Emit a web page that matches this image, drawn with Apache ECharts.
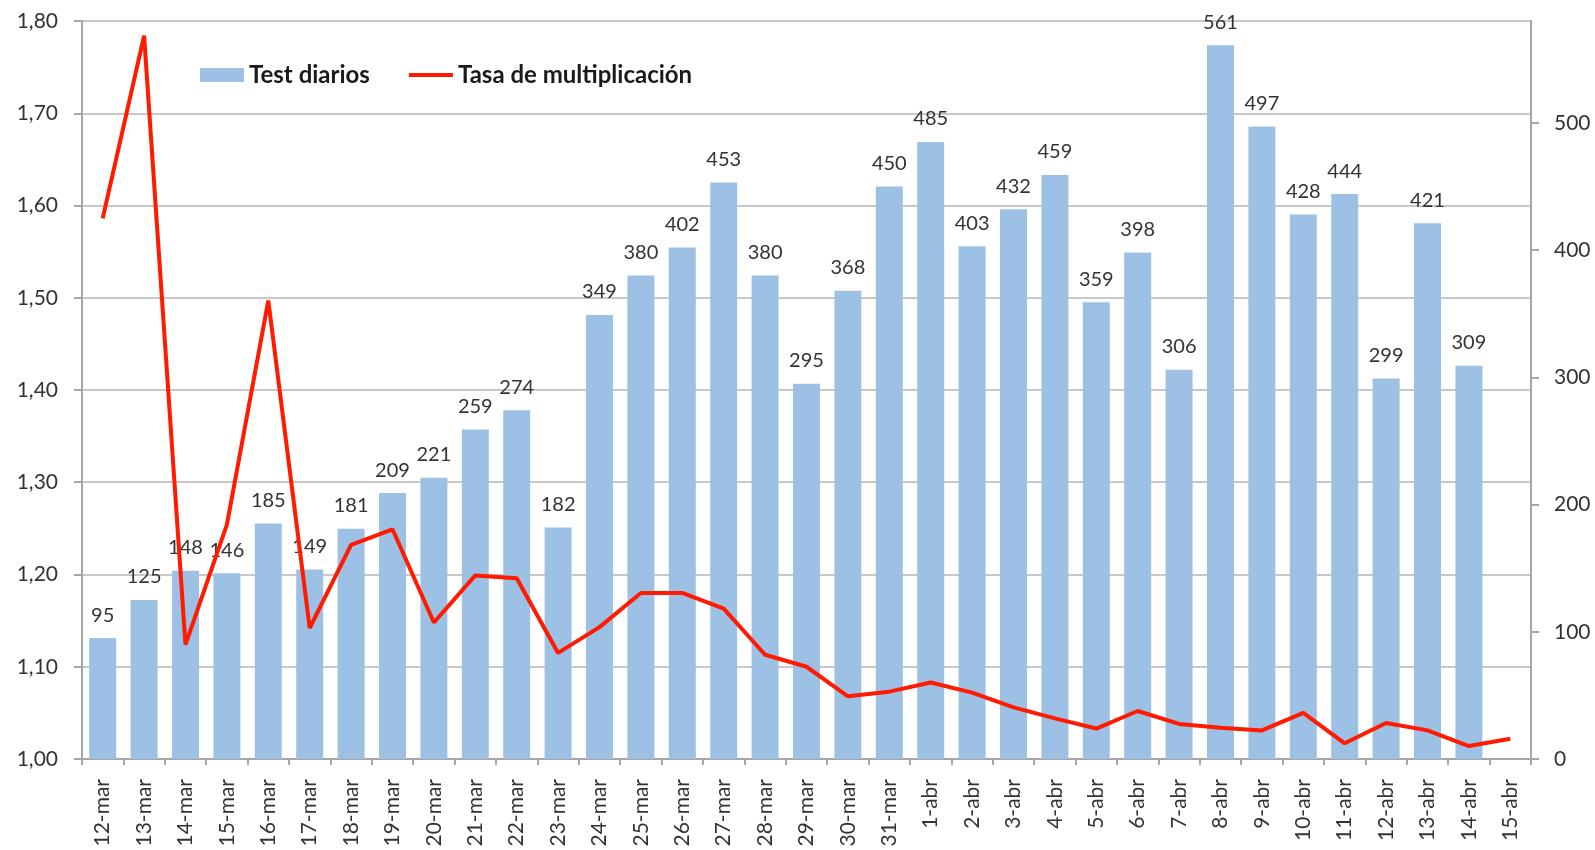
<!DOCTYPE html>
<html>
<head>
<meta charset="utf-8">
<script src="https://cdn.jsdelivr.net/npm/echarts@6/dist/echarts.min.js"></script>
<style>
  html, body { margin: 0; padding: 0; background: #ffffff; }
  #chart { width: 1595px; height: 850px; }
</style>
</head>
<body>
<div id="chart"></div>
<script>
const categories = ['12-mar','13-mar','14-mar','15-mar','16-mar','17-mar','18-mar','19-mar','20-mar','21-mar','22-mar','23-mar','24-mar','25-mar','26-mar','27-mar','28-mar','29-mar','30-mar','31-mar','1-abr','2-abr','3-abr','4-abr','5-abr','6-abr','7-abr','8-abr','9-abr','10-abr','11-abr','12-abr','13-abr','14-abr','15-abr'];
const testDiarios = [95,125,148,146,185,149,181,209,221,259,274,182,349,380,402,453,380,295,368,450,485,403,432,459,359,398,306,561,497,428,444,299,421,309,null];
const tasaMultiplicacion = [1.586,1.784,1.124,1.254,1.497,1.142,1.232,1.249,1.148,1.199,1.196,1.115,1.143,1.180,1.180,1.163,1.113,1.100,1.068,1.073,1.083,1.072,1.056,1.044,1.033,1.052,1.038,1.034,1.031,1.050,1.017,1.039,1.031,1.014,1.022];
const leftTicks = [1.0,1.1,1.2,1.3,1.4,1.5,1.6,1.7,1.8];
const rightTicks = [0,100,200,300,400,500];

const FONT = 'Lato, "Open Sans", sans-serif';
const chart = echarts.init(document.getElementById('chart'), null, {renderer: 'canvas'});
chart.setOption({
  animation: false,
  backgroundColor: '#ffffff',
  textStyle: { fontFamily: FONT },
  grid: { left: 82, right: 64, top: 21, bottom: 91, containLabel: false, outerBoundsMode: 'none' },
  legend: {
    left: 200, top: 63, padding: 0,
    itemWidth: 44, itemHeight: 14, itemGap: 37,
    textStyle: { fontFamily: FONT, fontSize: 24, fontWeight: 'bold', color: '#1a1a1a' },
    data: [
      { name: 'Test diarios', icon: 'rect' },
      { name: 'Tasa de multiplicación', itemStyle: { opacity: 0 }, lineStyle: { width: 4, color: '#ff1a00' } }
    ]
  },
  xAxis: {
    type: 'category',
    data: categories,
    boundaryGap: true,
    axisLine: { lineStyle: { color: '#a6a6a6', width: 2 } },
    axisTick: { show: true, interval: 0, length: 6, lineStyle: { color: '#a6a6a6', width: 2 } },
    axisLabel: { interval: 0, rotate: 90, margin: 20, fontSize: 21, color: '#333333', fontFamily: FONT }
  },
  yAxis: [
    {
      type: 'value', min: 1.0, max: 1.8, interval: 0.1, position: 'left',
      axisLine: { show: true, lineStyle: { color: '#a6a6a6', width: 2 } },
      axisTick: { show: true, length: 8, lineStyle: { color: '#a6a6a6', width: 2 }, customValues: leftTicks },
      axisLabel: { fontSize: 21, color: '#333333', margin: 24, fontFamily: FONT, customValues: leftTicks,
        formatter: v => v.toFixed(2).replace('.', ',') },
      splitLine: { show: true, lineStyle: { color: '#c8c8c8', width: 2 } }
    },
    {
      type: 'value', min: 0, max: 580, interval: 100, position: 'right',
      axisLine: { show: true, lineStyle: { color: '#a6a6a6', width: 2 } },
      axisTick: { show: true, length: 8, lineStyle: { color: '#a6a6a6', width: 2 }, customValues: rightTicks },
      axisLabel: { fontSize: 21, color: '#333333', margin: 23, fontFamily: FONT, customValues: rightTicks },
      splitLine: { show: false }
    }
  ],
  series: [
    {
      name: 'Test diarios',
      type: 'bar',
      yAxisIndex: 1,
      data: testDiarios,
      barWidth: 27,
      itemStyle: { color: '#9dc1e5' },
      label: { show: true, position: 'top', distance: 13, fontSize: 20, color: '#333333', fontFamily: FONT },
      z: 2
    },
    {
      name: 'Tasa de multiplicación',
      type: 'line',
      yAxisIndex: 0,
      data: tasaMultiplicacion,
      symbol: 'none',
      lineStyle: { color: '#ff1a00', width: 4 },
      itemStyle: { color: '#ff1a00' },
      z: 3
    }
  ]
});
</script>
</body>
</html>
